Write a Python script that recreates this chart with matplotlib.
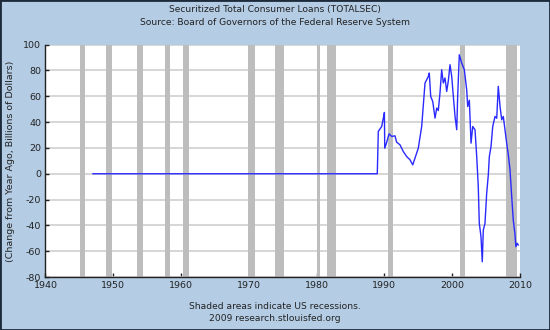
import matplotlib.pyplot as plt
from matplotlib.patches import Rectangle

plt.rcParams["axes.unicode_minus"] = False

# change from a year ago, billions of dollars
years = [1947.0, 1988.95, 1989.1, 1989.6, 1989.84, 1990.0, 1990.05, 1990.3, 1990.68,
         1991.08, 1991.56, 1991.8, 1992.3, 1992.79, 1993.29, 1993.78, 1994.18, 1994.51,
         1995.0, 1995.5, 1995.84, 1995.99, 1996.48, 1996.62, 1996.83, 1997.13, 1997.47,
         1997.72, 1997.95, 1998.2, 1998.45, 1998.69, 1998.94, 1999.19, 1999.43, 1999.68,
         1999.93, 2000.17, 2000.42, 2000.67, 2000.81, 2001.05, 2001.4, 2001.79, 2002.14,
         2002.29, 2002.53, 2002.78, 2003.03, 2003.37, 2003.62, 2003.85, 2004.0, 2004.25,
         2004.44, 2004.59, 2004.84, 2005.09, 2005.33, 2005.48, 2005.73, 2005.98, 2006.32,
         2006.57, 2006.8, 2007.06, 2007.31, 2007.54, 2007.79, 2008.04, 2008.28, 2008.53,
         2008.78, 2009.01, 2009.25, 2009.4, 2009.59, 2009.75]
values = [0, 0, 32.8, 36.6, 43.0, 47.5, 19.8, 23.7, 30.9,
          28.9, 29.4, 24.5, 22.4, 17.2, 13.3, 10.8, 6.9, 12.1,
          19.8, 36.6, 59.9, 70.3, 75.4, 78.0, 59.9, 56.0, 43.1,
          50.9, 49.0, 62.5, 80.6, 70.3, 74.2, 63.8, 72.0, 84.5,
          75.4, 59.9, 44.4, 34.1, 59.9, 92.2, 85.8, 80.6, 65.1,
          52.1, 57.0, 23.7, 36.6, 34.0, 13.3, -10.0, -38.4, -48.8,
          -68.2, -43.6, -38.4, -15.1, -0.9, 13.3, 21.1, 36.6, 44.4,
          43.0, 67.7, 52.1, 41.8, 44.4, 34.1, 23.7, 14.6, 3.0,
          -17.7, -35.8, -46.1, -56.5, -53.9, -55.2]

# US recessions (start, end)
recessions = [(1945.1, 1945.8), (1948.9, 1949.8), (1953.5, 1954.4), (1957.6, 1958.3),
              (1960.3, 1961.1), (1969.9, 1970.9), (1973.9, 1975.2), (1980.0, 1980.5),
              (1981.5, 1982.9), (1990.5, 1991.2), (2001.2, 2001.9), (2007.9, 2009.5)]

x_ticks = [1940, 1950, 1960, 1970, 1980, 1990, 2000, 2010]
y_ticks = [-80, -60, -40, -20, 0, 20, 40, 60, 80, 100]

bg = "#b4cde5"
ink = "#222222"
fig = plt.figure(figsize=(5.5, 3.3), dpi=100, facecolor=bg)
fig.patches.append(Rectangle((0, 0), 1, 1, transform=fig.transFigure, fill=False,
                             edgecolor="#1c2a3a", linewidth=2))

ax = fig.add_axes([0.0827, 0.1606, 0.8627, 0.704])
ax.set_facecolor("white")

for start, end in recessions:
    ax.axvspan(start, end, color="#bdbdbd", lw=0, zorder=2)

ax.plot(years, values, color="#2a2aff", lw=1, zorder=3)

ax.set_xlim(1940, 2010)
ax.set_ylim(-80, 100)
ax.set_xticks(x_ticks)
ax.set_yticks(y_ticks)
ax.grid(axis="y", color="#cfcfcf", lw=1.2, zorder=1)
ax.set_axisbelow(True)

for side in ["top", "right"]:
    ax.spines[side].set_visible(False)
for side in ["left", "bottom"]:
    ax.spines[side].set_color(ink)
    ax.spines[side].set_linewidth(1)

ax.tick_params(direction="in", length=3, width=1, color=ink,
               labelsize=6.8, labelcolor=ink, pad=3)

ax.set_ylabel("(Change from Year Ago, Billions of Dollars)", fontsize=6.8, color=ink, labelpad=6)

fig.text(0.5, 0.970, "Securitized Total Consumer Loans (TOTALSEC)",
         ha="center", va="center", fontsize=6.6, color=ink)
fig.text(0.5, 0.933, "Source: Board of Governors of the Federal Reserve System",
         ha="center", va="center", fontsize=6.6, color=ink)
fig.text(0.5, 0.0706, "Shaded areas indicate US recessions.",
         ha="center", va="center", fontsize=6.6, color=ink)
fig.text(0.5, 0.0355, "2009 research.stlouisfed.org",
         ha="center", va="center", fontsize=6.6, color=ink)

fig.savefig("out.png", dpi=100, facecolor=bg)
